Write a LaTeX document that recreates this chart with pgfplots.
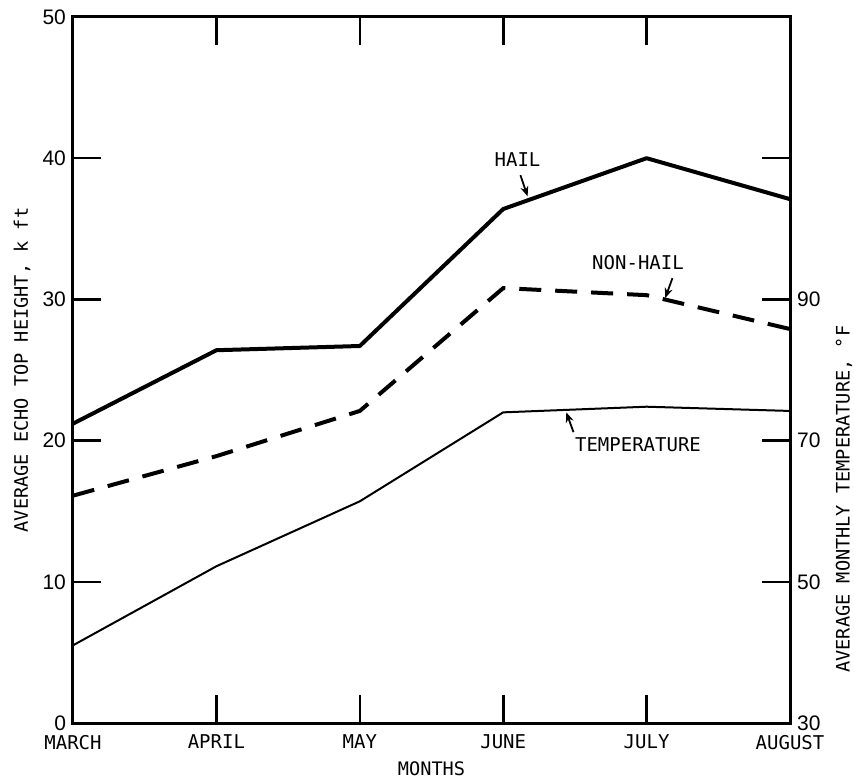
\documentclass[border=0pt]{standalone}
\usepackage{fontspec}
\setmainfont{Liberation Sans}
\newfontfamily\monof{DejaVu Sans Mono}
\usepackage{pgfplots}
\pgfplotsset{compat=1.18}
\usetikzlibrary{arrows.meta}
\pgfplotstableread{
x hail nonhail temp
0 21.2 16.1 5.5
1 26.4 18.9 11.1
2 26.7 22.1 15.7
3 36.4 30.8 22.0
4 40.0 30.3 22.4
5 37.1 27.9 22.1
}\data
\begin{document}
\begin{tikzpicture}
\path[use as bounding box] (-36.5pt,-29pt) rectangle (390.5pt,361.5pt);
\begin{axis}[
  scale only axis, width=358.5pt, height=353pt,
  at={(0,0)}, anchor=south west,
  xmin=0, xmax=5, ymin=0, ymax=50,
  xtick={0,...,5}, xticklabels={MARCH,APRIL,MAY,JUNE,JULY,AUGUST},
  ytick={0,10,...,50}, ytick pos=left,
  major tick length=14pt,
  tick style={line width=1.3pt, black},
  axis line style={line width=1.5pt},
  /pgf/number format/assume math mode=true,
  xticklabel style={font=\monof\fontsize{9.5}{11}\selectfont, yshift=-2.5pt},
  yticklabel style={font=\fontsize{10.5}{12}\selectfont},
  xlabel={MONTHS},
  xlabel style={font=\monof\fontsize{9.3}{11}\selectfont, at={(axis description cs:0.5,-0.0652)}, anchor=center},
  ylabel={AVERAGE ECHO TOP HEIGHT, k ft},
  ylabel style={font=\monof\fontsize{9.3}{11}\selectfont, at={(axis description cs:-0.0711,0.5)}, anchor=center},
  clip=false,
]
\addplot[black, line width=2pt, line join=round] table[x=x, y=hail] {\data};
\addplot[black, line width=2pt, dash pattern=on 11pt off 7pt] table[x=x, y=nonhail] {\data};
\addplot[black, line width=1pt, line join=round] table[x=x, y=temp] {\data};
\node[font=\monof\fontsize{9.5}{11}\selectfont] at (axis cs:3.10,39.9) {HAIL};
\draw[-{Stealth[length=5pt,width=4pt]}, line width=0.9pt] (axis cs:3.12,38.8) -- (axis cs:3.17,37.3);
\node[font=\monof\fontsize{9.5}{11}\selectfont] at (axis cs:3.94,32.6) {NON-HAIL};
\draw[-{Stealth[length=5pt,width=4pt]}, line width=0.9pt] (axis cs:4.18,31.5) -- (axis cs:4.13,30.1);
\node[font=\monof\fontsize{9.5}{11}\selectfont] at (axis cs:3.94,19.7) {TEMPERATURE};
\draw[-{Stealth[length=5pt,width=4pt]}, line width=0.9pt] (axis cs:3.49,20.6) -- (axis cs:3.44,22.0);
\end{axis}
\begin{axis}[
  scale only axis, width=358.5pt, height=353pt,
  at={(0,0)}, anchor=south west,
  xmin=0, xmax=5, ymin=30, ymax=130,
  axis x line=none, axis y line*=right,
  ytick={30,50,70,90,110}, yticklabels={30,50,70,90,{}},
  major tick length=14pt,
  tick style={line width=1.3pt, black},
  axis line style={line width=1.5pt},
  /pgf/number format/assume math mode=true,
  yticklabel style={font=\fontsize{10.5}{12}\selectfont},
  ylabel={AVERAGE MONTHLY TEMPERATURE, \textdegree F},
  ylabel style={font=\monof\fontsize{9.3}{11}\selectfont, at={(axis description cs:1.0753,0.317)}, anchor=center, rotate=0},
]
\end{axis}
\end{tikzpicture}
\end{document}
